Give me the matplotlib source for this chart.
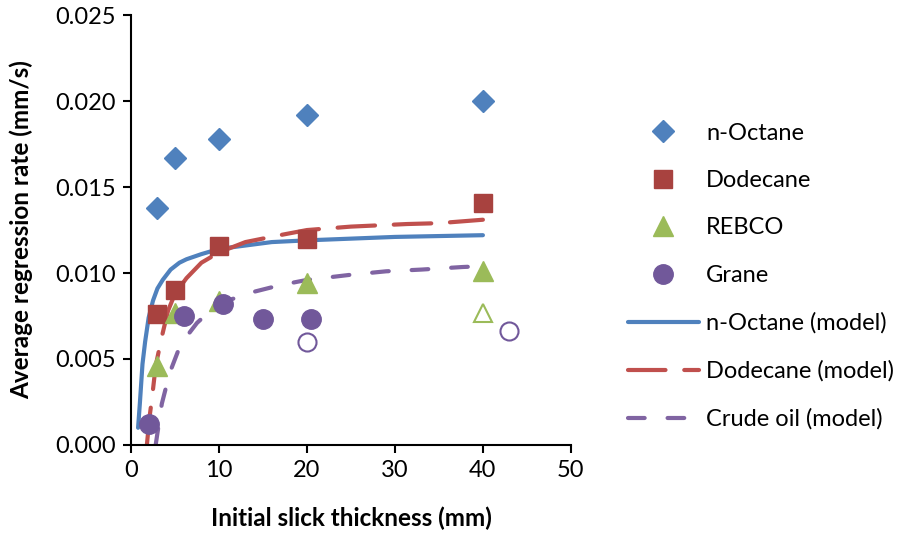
import matplotlib.pyplot as plt
from matplotlib.ticker import FormatStrFormatter

plt.rcParams['font.family'] = ['Lato', 'DejaVu Sans']

# measured data
octane_x = [3, 5, 10, 20, 40]
octane_y = [0.0138, 0.0167, 0.0178, 0.0192, 0.0200]

dodecane_x = [3, 5, 10, 20, 40]
dodecane_y = [0.0076, 0.0090, 0.0116, 0.0120, 0.0141]

rebco_x = [3, 5, 10, 20, 40]
rebco_y = [0.0046, 0.0077, 0.0084, 0.0094, 0.0101]
rebco_open_x = [40]
rebco_open_y = [0.0077]

grane_x = [2, 6, 10.5, 15, 20.5]
grane_y = [0.0012, 0.0075, 0.0082, 0.0073, 0.0073]
grane_open_x = [20, 43]
grane_open_y = [0.0060, 0.0066]

# model curves
octane_model_x = [0.8, 1.0, 1.3, 1.6, 2.0, 2.5, 3.0, 3.6, 4.5, 5.5, 6.3, 8, 10, 13, 16, 20, 25, 30, 35, 40]
octane_model_y = [0.0010, 0.0024, 0.0047, 0.0060, 0.0074, 0.0084, 0.0091, 0.0096, 0.0102, 0.0106, 0.0108,
                  0.0111, 0.0114, 0.0116, 0.0118, 0.0119, 0.0120, 0.0121, 0.01215, 0.0122]

dodecane_model_x = [1.8, 2.1, 2.4, 2.8, 3.5, 4.2, 5.0, 6.3, 8, 10, 13, 16.9, 20, 25, 31.4, 35, 40]
dodecane_model_y = [0.0, 0.0016, 0.0028, 0.0046, 0.0063, 0.0078, 0.0088, 0.0097, 0.0106, 0.0112, 0.0118,
                    0.0122, 0.0125, 0.0127, 0.01285, 0.0129, 0.0131]

crude_model_x = [2.8, 3.5, 4.4, 5.3, 6.3, 7.5, 9, 11, 13.9, 17, 20, 25, 29, 33, 37.7, 40]
crude_model_y = [0.0, 0.0024, 0.0042, 0.0054, 0.0063, 0.0071, 0.0078, 0.0084, 0.0089, 0.0093, 0.0096,
                 0.0099, 0.0101, 0.0102, 0.01035, 0.0104]

blue = '#4F81BD'
red_line = '#C0504D'
red_mark = '#A8423F'
green = '#9BBB59'
purple_line = '#8064A2'
purple_mark = '#71589A'

fig = plt.figure(figsize=(9.05, 5.4), dpi=100)
ax = fig.add_axes([0.1448, 0.176, 0.486, 0.796])

l1, = ax.plot(octane_model_x, octane_model_y, color=blue, lw=3, solid_capstyle='round',
              label='n-Octane (model)', zorder=2)
l2, = ax.plot(dodecane_model_x, dodecane_model_y, color=red_line, lw=3, linestyle=(0, (9, 4.5)),
              dash_capstyle='round', label='Dodecane (model)', zorder=2)
l3, = ax.plot(crude_model_x, crude_model_y, color=purple_line, lw=3, linestyle=(0, (4, 5.5)),
              dash_capstyle='round', label='Crude oil (model)', zorder=2)

m1, = ax.plot(octane_x, octane_y, 'D', color=blue, ms=11, mec=blue, ls='none', label='n-Octane', zorder=3)
m2, = ax.plot(dodecane_x, dodecane_y, 's', color=red_mark, ms=13, mec=red_mark, ls='none', label='Dodecane', zorder=3)
m3, = ax.plot(rebco_x, rebco_y, '^', color=green, ms=14, mec=green, ls='none', label='REBCO', zorder=3)
ax.plot(rebco_open_x, rebco_open_y, '^', mfc='white', mec=green, mew=1.5, ms=13, ls='none', zorder=3)
m4, = ax.plot(grane_x, grane_y, 'o', color=purple_mark, ms=14, mec=purple_mark, ls='none', label='Grane', zorder=4)
ax.plot(grane_open_x, grane_open_y, 'o', mfc='white', mec=purple_mark, mew=1.5, ms=13, ls='none', zorder=3)

ax.set_xlim(0, 50)
ax.set_ylim(0, 0.025)
ax.set_xticks(range(0, 51, 10))
ax.set_yticks([0, 0.005, 0.010, 0.015, 0.020, 0.025])
ax.yaxis.set_major_formatter(FormatStrFormatter('%.3f'))
ax.tick_params(direction='out', length=6, width=1.5, labelsize=17, colors='black', pad=5)

for side in ['top', 'right']:
    ax.spines[side].set_visible(False)
for side in ['left', 'bottom']:
    ax.spines[side].set_linewidth(1.5)

ax.set_xlabel('Initial slick thickness (mm)', fontsize=17.5, fontweight='bold', labelpad=18)
ax.set_ylabel('Average regression rate (mm/s)', fontsize=17.5, fontweight='bold', labelpad=16)

fig.legend(handles=[m1, m2, m3, m4, l1, l2, l3], loc='upper left', bbox_to_anchor=(0.694, 0.773),
           frameon=False, fontsize=17, handlelength=3.0, handletextpad=0.3, labelspacing=1.12,
           borderaxespad=0, borderpad=0)

fig.savefig('out.png', dpi=100)
